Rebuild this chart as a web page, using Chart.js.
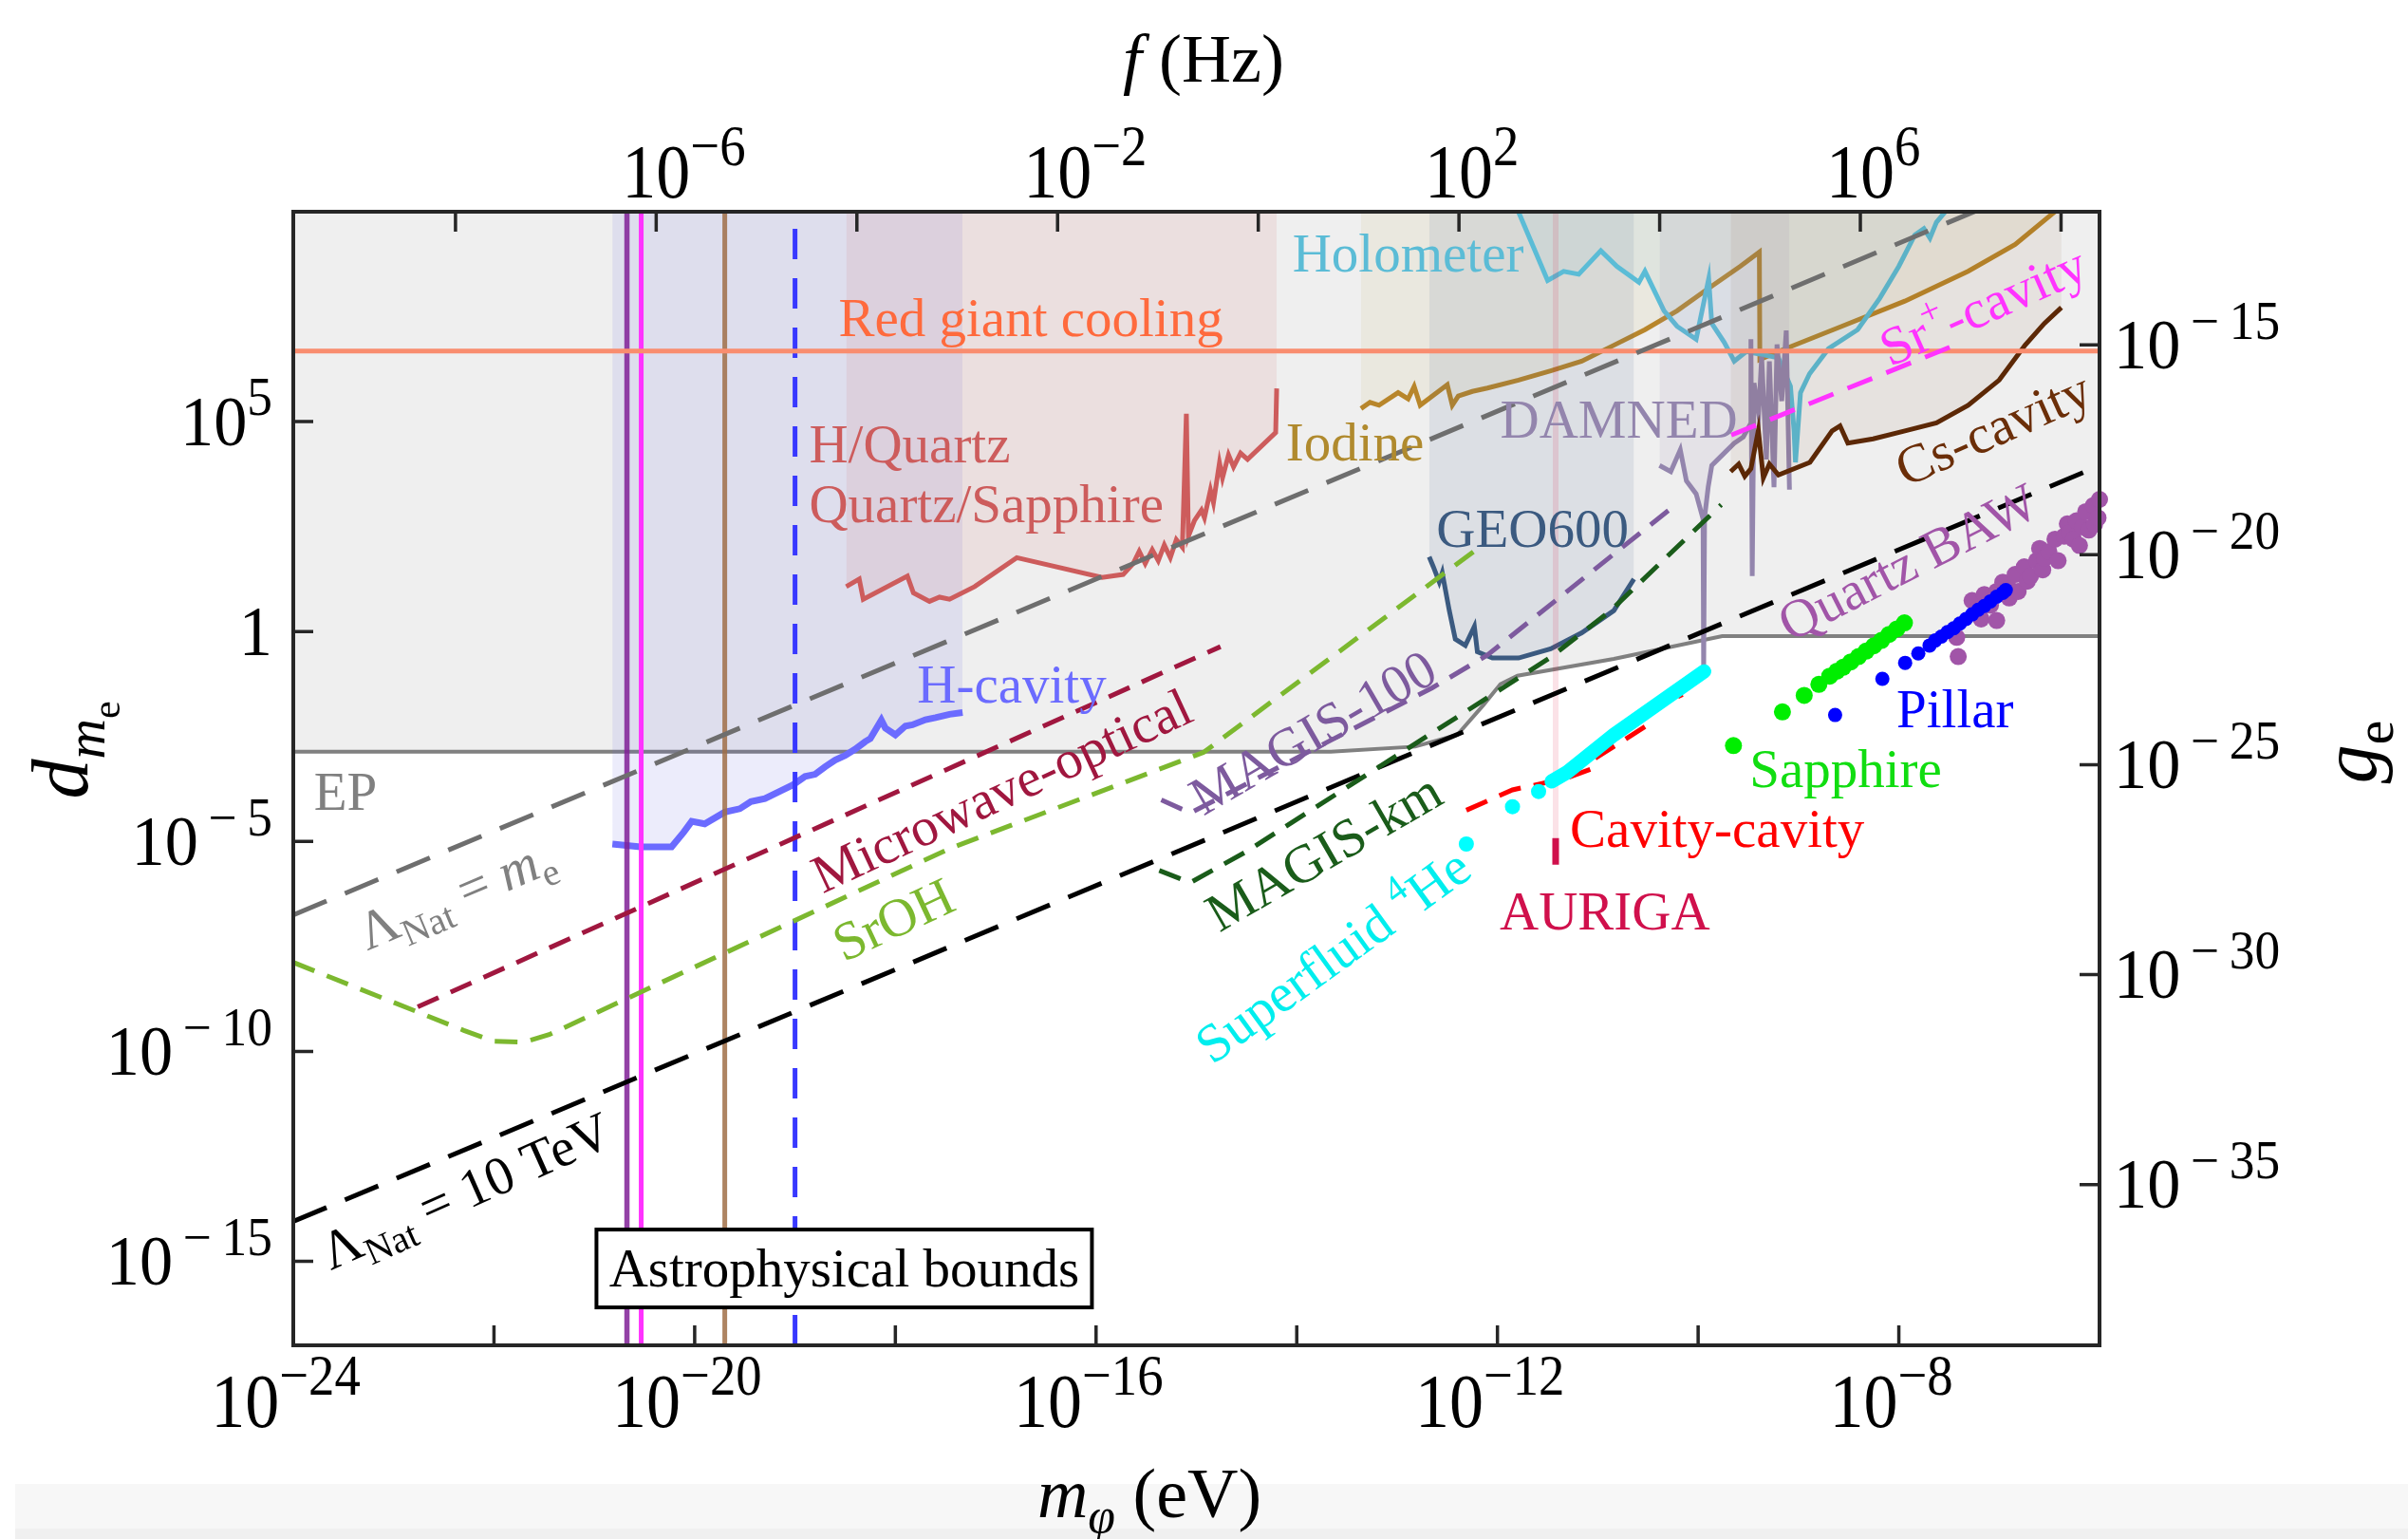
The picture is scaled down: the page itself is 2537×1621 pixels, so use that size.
<!DOCTYPE html>
<html>
<head>
<meta charset="utf-8">
<title>Scalar coupling to electrons: limits and projections</title>
<script src="https://cdn.jsdelivr.net/npm/chart.js@4.4.1/dist/chart.umd.min.js"></script>
<style>
  html, body { margin: 0; padding: 0; background: #fff; }
  canvas { display: block; }
</style>
</head>
<body>
<canvas id="limits" width="2537" height="1621"></canvas>
<script>
// All series are stored as log10 values: x = log10(m_phi / eV), y = log10(d_me)
const M_TO_HZ = 14.3835;   // log10(f/Hz) - log10(m/eV)
const D_TO_G = -21.83;     // log10(g_e) - log10(d_me)

const epX = [-24, -13.66, -12.82, -12.40, -12.14, -11.97, -11.80, -10.84, -9.76, -6];
const epY = [-2.86, -2.86, -2.74, -2.46, -1.75, -1.25, -1.05, -0.65, -0.11, -0.11];

const redGiantY = 6.68;
const astroLinesX = [-20.675, -20.533, -19.70, -19.0];

const lamMeX = [-24, -6];
const lamMeY = [-6.75, 11.25];
const lamTevX = [-24, -6];
const lamTevY = [-14.05, 3.95];

const hCavX = [-20.82, -20.54, -20.23, -20.11, -20.03, -19.90, -19.70, -19.55, -19.44, -19.30, -19.15, -19.02, -18.90, -18.80, -18.70, -18.60, -18.50, -18.40, -18.30, -18.25, -18.14, -18.10, -18.00, -17.90, -17.83, -17.70, -17.60, -17.46, -17.33];
const hCavY = [-5.06, -5.13, -5.13, -4.78, -4.52, -4.58, -4.30, -4.22, -4.05, -3.98, -3.80, -3.65, -3.45, -3.40, -3.22, -3.06, -2.95, -2.80, -2.62, -2.55, -2.11, -2.30, -2.46, -2.25, -2.22, -2.10, -2.05, -1.97, -1.93];

const hQuartzX = [-18.49, -18.36, -18.32, -17.88, -17.82, -17.66, -17.56, -17.46, -17.21, -16.79, -15.94, -15.73, -15.63, -15.57, -15.51, -15.44, -15.38, -15.32, -15.26, -15.20, -15.14, -15.10, -15.08, -15.02, -14.95, -14.92, -14.86, -14.83, -14.77, -14.74, -14.68, -14.63, -14.56, -14.49, -14.21, -14.20];
const hQuartzY = [1.07, 1.25, 0.77, 1.32, 0.92, 0.72, 0.82, 0.77, 1.07, 1.76, 1.29, 1.36, 1.62, 1.91, 1.62, 1.95, 1.69, 2.06, 1.76, 2.19, 2.01, 5.19, 2.27, 2.64, 2.89, 2.71, 3.37, 3.07, 4.02, 3.66, 4.21, 3.92, 4.25, 4.10, 4.74, 5.79];

const iodineX = [-13.36, -13.27, -13.18, -12.99, -12.89, -12.83, -12.77, -12.50, -12.45, -12.39, -12.25, -12.10, -11.79, -11.47, -11.16, -10.84, -10.53, -10.21, -9.90, -9.58, -9.39, -9.385, -9.20, -8.57, -7.94, -7.31, -6.84, -6.42];
const iodineY = [5.31, 5.46, 5.39, 5.69, 5.54, 5.84, 5.39, 5.88, 5.39, 5.61, 5.72, 5.80, 5.99, 6.21, 6.44, 6.82, 7.19, 7.64, 8.17, 8.70, 9.04, 6.48, 6.67, 7.27, 7.87, 8.58, 9.22, 10.05];

const holoX = [-11.80, -11.50, -11.34, -11.19, -10.97, -10.81, -10.59, -10.53, -10.34, -10.21, -10.02, -9.895, -9.864, -9.74, -9.64, -9.52, -9.20, -9.08, -9.044, -9.03, -8.98, -8.89, -8.70, -8.41, -8.19, -8.00, -7.84, -7.75, -7.69, -7.625, -7.52];
const holoY = [10.05, 8.36, 8.58, 8.51, 9.07, 8.70, 8.32, 8.58, 7.64, 7.27, 6.96, 8.40, 7.34, 6.89, 6.44, 6.67, 6.52, 5.84, 4.78, 4.03, 5.69, 6.14, 6.74, 7.19, 7.94, 8.70, 9.45, 9.60, 9.37, 9.75, 10.05];

const geoX = [-12.68, -12.64, -12.58, -12.55, -12.48, -12.42, -12.32, -12.23, -12.20, -12.05, -11.79, -11.47, -11.16, -10.84, -10.64];
const geoY = [1.78, 1.55, 1.18, 1.40, 0.50, -0.18, -0.33, 0.12, -0.48, -0.63, -0.63, -0.41, -0.03, 0.50, 1.25];

const damnedX = [-10.385, -10.273, -10.178, -10.117, -10.02, -9.951, -9.945, -9.936, -9.90, -9.864, -9.77, -9.642, -9.55, -9.48, -9.474, -9.461, -9.443, -9.397, -9.367, -9.32, -9.29, -9.244, -9.214, -9.167, -9.122, -9.09];
const damnedY = [3.955, 3.81, 4.33, 3.59, 3.28, 2.68, -1.05, 2.71, 3.44, 3.955, 4.18, 4.485, 4.635, 4.94, 6.965, 1.32, 5.92, 5.19, 6.545, 4.10, 6.435, 3.44, 6.84, 5.49, 7.17, 3.38];

const csX = [-9.676, -9.596, -9.535, -9.474, -9.40, -9.35, -9.29, -9.20, -8.886, -8.665, -8.586, -8.508, -8.256, -7.94, -7.625, -7.31, -7.0, -6.742, -6.55, -6.38];
const csY = [3.81, 3.99, 3.70, 3.88, 4.79, 3.66, 3.99, 3.73, 4.03, 4.78, 4.90, 4.49, 4.59, 4.78, 4.97, 5.39, 5.99, 6.82, 7.34, 7.72];

const srIonX = [-9.67, -7.37];
const srIonY = [4.68, 6.89];

const microX = [-22.76, -14.76];
const microY = [-8.94, -0.36];

const srohX = [-24, -22.3, -22.0, -21.7, -21.45, -17.46, -14.93, -12.23];
const srohY = [-7.88, -9.50, -9.76, -9.78, -9.60, -5.17, -2.88, 1.92];

const magis100X = [-15.35, -15.06, -12.65, -12.10, -10.21];
const magis100Y = [-4.01, -4.32, -1.34, -0.56, 3.05];

const magisKmX = [-15.37, -15.06, -14.51, -11.48, -10.88, -9.77];
const magisKmY = [-5.69, -5.98, -5.25, -0.63, 0.48, 3.02];

const cavX = [-12.31, -11.85, -11.31, -11.06, -11.04, -10.52, -10.48, -10.155];
const cavY = [-4.255, -3.77, -3.49, -3.27, -3.04, -2.25, -1.84, -1.50];

const aurigaX = -11.42;
const aurigaY = [-4.92, -5.55];

const heDotX = [-12.31, -11.85, -11.59];
const heDotY = [-5.06, -4.17, -3.81];
const heBandX = [-11.46, -11.31, -10.84, -9.94];
const heBandY = [-3.57, -3.36, -2.46, -0.95];

const sapphireX = [-9.648, -9.16, -8.943, -8.797, -8.689, -8.617, -8.555, -8.479, -8.402, -8.326, -8.25, -8.173, -8.097, -8.02, -7.944];
const sapphireY = [-2.717, -1.914, -1.519, -1.256, -1.063, -0.942, -0.851, -0.723, -0.595, -0.467, -0.34, -0.212, -0.066, 0.062, 0.208];

const pillarX = [-8.635, -8.164, -7.937, -7.806, -7.694, -7.637, -7.576, -7.515, -7.453, -7.392, -7.331, -7.27, -7.209, -7.148, -7.087, -7.025, -6.964, -6.934];
const pillarY = [-1.987, -1.125, -0.745, -0.522, -0.332, -0.212, -0.12, -0.011, 0.08, 0.19, 0.30, 0.41, 0.519, 0.61, 0.72, 0.83, 0.92, 0.986];

const bawX = [-7.423, -7.408, -7.27, -7.225, -7.18, -7.148, -7.087, -7.025, -7.025, -6.964, -6.903, -6.90, -6.841, -6.811, -6.75, -6.72, -6.688, -6.627, -6.597, -6.566, -6.55, -6.505, -6.444, -6.413, -6.352, -6.321, -6.30, -6.26, -6.23, -6.20, -6.168, -6.138, -6.107, -6.061, -6.05, -6.015, -6.0];
const bawY = [-0.139, -0.595, 0.738, 0.519, 0.30, 0.884, 0.628, 0.957, 0.263, 1.176, 1.03, 0.80, 1.359, 0.957, 1.54, 1.20, 1.32, 1.687, 1.98, 1.47, 1.75, 1.906, 2.2, 1.687, 2.27, 2.566, 2.35, 2.2, 2.637, 2.05, 2.49, 2.856, 2.418, 3.002, 2.55, 2.71, 3.148];

// axis ticks (log10 values)
const mTicks = [-24, -22, -20, -18, -16, -14, -12, -10, -8, -6];
const mLabels = [-24, -20, -16, -12, -8];
const fTicks = [-8, -6, -4, -2, 0, 2, 4, 6, 8];
const fLabels = [-6, -2, 2, 6];
const dTicks = [5, 0, -5, -10, -15];
const gTicks = [-15, -20, -25, -30, -35];

const FONT = '"Liberation Serif", "Times New Roman", serif';
const TICK = 21;
const LABEL_SIZE = 57;

const pts = (xs, ys) => xs.map((v, i) => ({ x: 10 ** v, y: 10 ** ys[i] }));

function curve(label, data, color, extra) {
  return Object.assign({
    label, data, borderColor: color, borderWidth: 5, pointRadius: 0, pointHoverRadius: 0,
    fill: false, tension: 0, xAxisID: 'x', yAxisID: 'y'
  }, extra);
}
function dots(label, data, color, r, extra) {
  return Object.assign({
    label, data, showLine: false, pointRadius: r, pointHoverRadius: r,
    pointBackgroundColor: color, pointBorderWidth: 0, borderColor: color,
    xAxisID: 'x', yAxisID: 'y', order: 5
  }, extra);
}

const dashShort = [24, 14];
const dashLong = [38, 21];

const datasets = [
  curve('EP', pts(epX, epY), '#808080', { fill: 'end', backgroundColor: '#efefef', borderWidth: 4, order: 100 }),
  curve('H-cavity', pts(hCavX, hCavY), '#6b6bff', { fill: 'end', backgroundColor: 'rgba(100,100,220,0.12)', borderWidth: 7, order: 80 }),
  curve('H/Quartz', pts(hQuartzX, hQuartzY), '#cd5c5c', { fill: 'end', backgroundColor: 'rgba(205,92,92,0.10)', order: 79 }),
  curve('Iodine', pts(iodineX, iodineY), '#b8862b', { fill: 'end', backgroundColor: 'rgba(184,150,43,0.08)', order: 78 }),
  curve('GEO600', pts(geoX, geoY), '#3b5a80', { fill: 'end', backgroundColor: 'rgba(60,90,140,0.10)', order: 77 }),
  curve('Holometer', pts(holoX, holoY), '#5bbcd6', { fill: 'end', backgroundColor: 'rgba(91,188,214,0.07)', order: 76 }),
  curve('DAMNED', pts(damnedX, damnedY), '#9385ad', { fill: 'end', backgroundColor: 'rgba(147,133,173,0.12)', order: 75 }),
  curve('Cs-cavity', pts(csX, csY), '#5c2806', { fill: 'end', backgroundColor: 'rgba(120,60,10,0.07)', order: 74 }),
  curve('AURIGA band', pts([aurigaX, aurigaX], [10, aurigaY[0]]), 'rgba(220,20,60,0.12)', { borderWidth: 6, order: 73 }),
  curve('AURIGA', pts([aurigaX, aurigaX], aurigaY), '#d0104c', { borderWidth: 7, order: 20 }),

  curve('astro 1', pts([astroLinesX[0], astroLinesX[0]], [-17, 10]), 'rgba(128,32,150,0.85)', { borderWidth: 5.5, order: 60 }),
  curve('astro 2', pts([astroLinesX[1], astroLinesX[1]], [-17, 10]), '#ff33ff', { borderWidth: 5, order: 60 }),
  curve('astro 3', pts([astroLinesX[2], astroLinesX[2]], [-17, 10]), 'rgba(160,110,70,0.85)', { borderWidth: 5, order: 60 }),
  curve('astro 4', pts([astroLinesX[3], astroLinesX[3]], [-17, 10]), '#3838ff', { borderWidth: 5, borderDash: [32, 20], order: 60 }),

  curve('Red giant cooling', pts([-24, -6], [redGiantY, redGiantY]), '#f98d6f', { order: 50 }),

  curve('Lambda me', pts(lamMeX, lamMeY), '#6e6e6e', { borderDash: dashLong, order: 40 }),
  curve('Lambda 10 TeV', pts(lamTevX, lamTevY), '#000000', { borderDash: dashLong, order: 40 }),

  curve('Microwave-optical', pts(microX, microY), '#a0173f', { borderDash: dashShort, order: 30 }),
  curve('SrOH', pts(srohX, srohY), '#7cb82f', { borderDash: dashShort, order: 30 }),
  curve('MAGIS-100', pts(magis100X, magis100Y), '#7d5a9e', { borderDash: dashShort, order: 30 }),
  curve('MAGIS-km', pts(magisKmX, magisKmY), '#1a5c1a', { borderDash: dashShort, order: 30 }),
  curve('Sr+-cavity', pts(srIonX, srIonY), '#ff33ff', { borderDash: [28, 16], order: 30 }),
  curve('Cavity-cavity', pts(cavX, cavY), '#ff0000', { borderDash: dashShort, order: 30 }),

  curve('Superfluid 4He band', pts(heBandX, heBandY), '#00ffff', { borderWidth: 15, borderCapStyle: 'round', order: 6 }),
  dots('Superfluid 4He', pts(heDotX, heDotY), '#00ffff', 8),
  dots('Sapphire', pts(sapphireX, sapphireY), '#00ee00', 9),
  dots('Quartz BAW', pts(bawX, bawY), '#a155a8', 9, { clip: false, order: 4 }),
  dots('Pillar', pts(pillarX, pillarY), '#0000ff', 7.5, { order: 3 })
];

// text with italic / sub / superscript runs, drawn along a (possibly rotated) baseline
const SEG = {
  n:    { s: 1,    d: 0,     it: false },
  i:    { s: 1,    d: 0,     it: true },
  sub:  { s: 0.7,  d: 0.22,  it: false },
  isub: { s: 0.7,  d: 0.22,  it: true },
  sup:  { s: 0.7,  d: -0.42, it: false },
  tsup: { s: 0.76, d: -0.42, it: false },
  ssub: { s: 0.5,  d: 0.40,  it: false }
};
function drawRich(ctx, segs, x, y, size, color, o = {}) {
  const sx = o.sx || 1;
  ctx.save();
  ctx.translate(x, y);
  ctx.rotate(-(o.angle || 0) * Math.PI / 180);
  ctx.scale(sx, 1);
  ctx.fillStyle = color;
  ctx.textAlign = 'left';
  ctx.textBaseline = 'alphabetic';
  const parts = segs.map(([t, k = 'n']) => {
    const st = SEG[k];
    const font = `${st.it ? 'italic ' : ''}${(size * st.s).toFixed(1)}px ${FONT}`;
    ctx.font = font;
    return { t, font, d: st.d * size, w: ctx.measureText(t).width };
  });
  const total = parts.reduce((a, p) => a + p.w, 0);
  let cx = -total / 2;
  if (o.align === 'left') cx = 0;
  if (o.align === 'right') cx = -total;
  if (o.align === 'first') cx = -parts[0].w / 2;
  const base = o.mid ? size * 0.33 : 0;
  for (const p of parts) {
    ctx.font = p.font;
    ctx.fillText(p.t, cx, base + p.d);
    cx += p.w;
  }
  ctx.restore();
}

const annotations = [
  { segs: [['Red giant cooling']], x: -16.65, y: 7.46, color: '#ff6a3d' },
  { segs: [['H/Quartz']], x: -18.86, y: 4.46, color: '#cd5c5c', align: 'left' },
  { segs: [['Quartz/Sapphire']], x: -18.86, y: 3.04, color: '#cd5c5c', align: 'left' },
  { segs: [['H-cavity']], x: -16.84, y: -1.27, color: '#6b6bff' },
  { segs: [['Holometer']], x: -12.89, y: 8.99, color: '#5bbcd6' },
  { segs: [['Iodine']], x: -13.42, y: 4.50, color: '#b08a2e' },
  { segs: [['DAMNED']], x: -10.79, y: 5.05, color: '#9385ad' },
  { segs: [['GEO600']], x: -11.65, y: 2.45, color: '#3b5a80' },
  { segs: [['EP']], x: -23.48, y: -3.83, color: '#808080' },
  { segs: [['Pillar']], x: -7.44, y: -1.86, color: '#0000ff' },
  { segs: [['Sapphire']], x: -8.53, y: -3.28, color: '#11dd11' },
  { segs: [['Cavity-cavity']], x: -9.81, y: -4.70, color: '#ff0000' },
  { segs: [['AURIGA']], x: -10.93, y: -6.68, color: '#d0104c' },
  { segs: [['Microwave-optical']], x: -16.94, y: -3.79, color: '#a0173f', angle: 25 },
  { segs: [['SrOH']], x: -18.02, y: -6.86, color: '#7cb82f', angle: 25 },
  { segs: [['MAGIS-100']], x: -13.84, y: -2.40, color: '#7d5a9e', angle: 30 },
  { segs: [['MAGIS-km']], x: -13.73, y: -5.25, color: '#1a5c1a', angle: 30 },
  { segs: [['Superfluid '], ['4', 'sup'], ['He']], x: -13.64, y: -7.72, color: '#00eeee', angle: 36 },
  { segs: [['Sr'], ['+', 'sup'], ['-cavity']], x: -7.16, y: 7.75, color: '#ff33ff', angle: 24 },
  { segs: [['Cs-cavity']], x: -7.06, y: 4.83, color: '#6b2e08', angle: 24 },
  { segs: [['Quartz BAW']], x: -7.91, y: 1.65, color: '#a155a8', angle: 27 },
  { segs: [['Λ'], ['Nat', 'sub'], [' = '], ['m', 'i'], ['e', 'sub']], x: -22.38, y: -6.25, color: '#808080', angle: 23 },
  { segs: [['Λ'], ['Nat', 'sub'], [' = 10 TeV']], x: -22.28, y: -13.32, color: '#000000', angle: 24 }
];

// exponents: the side axes use a spaced minus, the top and bottom axes a tight one
const expoWide = (e) => (e < 0 ? '\u2009\u2212\u2009' + (-e) : String(e));
const expoTight = (e) => (e < 0 ? '\u2212' + (-e) : String(e));

const decor = {
  id: 'decor',
  beforeDraw(chart) {
    const { ctx, width, height } = chart;
    ctx.save();
    ctx.fillStyle = '#ffffff';
    ctx.fillRect(0, 0, width, height);
    ctx.fillStyle = '#f7f7f7';
    ctx.fillRect(16, 1563, width - 16, height - 1563);
    ctx.fillStyle = '#f0f0f0';
    ctx.fillRect(16, 1610, width - 16, height - 1610);
    ctx.restore();
  },
  afterDatasetsDraw(chart) {
    const { ctx, chartArea: a, scales } = chart;
    const { x, y, xTop, yRight } = scales;

    // in-plot labels
    for (const t of annotations) {
      drawRich(ctx, t.segs, x.getPixelForValue(10 ** t.x), y.getPixelForValue(10 ** t.y), LABEL_SIZE, t.color,
        { angle: t.angle || 0, align: t.align, mid: true });
    }

    // boxed label
    const bx = x.getPixelForValue(10 ** -18.51), by = y.getPixelForValue(10 ** -15.17);
    ctx.save();
    ctx.fillStyle = '#ffffff';
    ctx.fillRect(bx - 261, by - 41, 522, 82);
    ctx.strokeStyle = '#000000';
    ctx.lineWidth = 4;
    ctx.strokeRect(bx - 261, by - 41, 522, 82);
    ctx.restore();
    drawRich(ctx, [['Astrophysical bounds']], bx, by, LABEL_SIZE, '#000000', { mid: true });

    // frame and inward ticks
    ctx.save();
    ctx.strokeStyle = '#262626';
    ctx.lineWidth = 4;
    ctx.strokeRect(a.left, a.top, a.right - a.left, a.bottom - a.top);
    ctx.lineWidth = 3.5;
    ctx.beginPath();
    for (const t of mTicks) { const p = x.getPixelForValue(10 ** t); ctx.moveTo(p, a.bottom); ctx.lineTo(p, a.bottom - TICK); }
    for (const t of fTicks) { const p = xTop.getPixelForValue(10 ** t); ctx.moveTo(p, a.top); ctx.lineTo(p, a.top + TICK); }
    for (const t of dTicks) { const p = y.getPixelForValue(10 ** t); ctx.moveTo(a.left, p); ctx.lineTo(a.left + TICK, p); }
    for (const t of gTicks) { const p = yRight.getPixelForValue(10 ** t); ctx.moveTo(a.right, p); ctx.lineTo(a.right - TICK, p); }
    ctx.stroke();
    ctx.restore();

    // tick labels
    for (const e of mLabels) {
      drawRich(ctx, [['10'], [expoTight(e), 'tsup']], x.getPixelForValue(10 ** e) - 8, a.bottom + 86, 80, '#000', { sx: 0.9 });
    }
    for (const e of fLabels) {
      drawRich(ctx, [['10'], [expoTight(e), 'tsup']], xTop.getPixelForValue(10 ** e), a.top - 15, 80, '#000', { sx: 0.9, align: 'first' });
    }
    for (const e of dTicks) {
      const segs = e === 0 ? [['1']] : [['10'], [expoWide(e), 'tsup']];
      drawRich(ctx, segs, a.left - 22, y.getPixelForValue(10 ** e), 74, '#000', { align: 'right', mid: true, sx: 0.95 });
    }
    for (const e of gTicks) {
      drawRich(ctx, [['10'], [expoWide(e), 'tsup']], a.right + 15, yRight.getPixelForValue(10 ** e), 74, '#000', { align: 'left', mid: true, sx: 0.95 });
    }

    // axis titles
    drawRich(ctx, [['f', 'i'], [' (Hz)']], 1268, 86, 72, '#000');
    drawRich(ctx, [['m', 'i'], ['φ', 'isub'], [' (eV)']], 1211, 1598, 74, '#000');
    drawRich(ctx, [['d', 'i'], ['m', 'isub'], ['e', 'ssub']], 92, 790, 84, '#000', { angle: 90 });
    drawRich(ctx, [['g', 'i'], ['e', 'sub']], 2503, 792, 82, '#000', { angle: 90 });
  }
};

new Chart(document.getElementById('limits'), {
  type: 'line',
  data: { datasets },
  options: {
    responsive: false,
    devicePixelRatio: 1,
    animation: false,
    events: [],
    layout: { padding: { left: 309, right: 325, top: 223, bottom: 204 } },
    plugins: { legend: { display: false }, tooltip: { enabled: false } },
    scales: {
      x: { type: 'logarithmic', position: 'bottom', min: 1e-24, max: 1e-6, display: false },
      y: { type: 'logarithmic', position: 'left', min: 1e-17, max: 1e10, display: false },
      xTop: { type: 'logarithmic', position: 'top', min: 10 ** (-24 + M_TO_HZ), max: 10 ** (-6 + M_TO_HZ), display: false },
      yRight: { type: 'logarithmic', position: 'right', min: 10 ** (-17 + D_TO_G), max: 10 ** (10 + D_TO_G), display: false }
    }
  },
  plugins: [decor]
});
</script>
</body>
</html>
